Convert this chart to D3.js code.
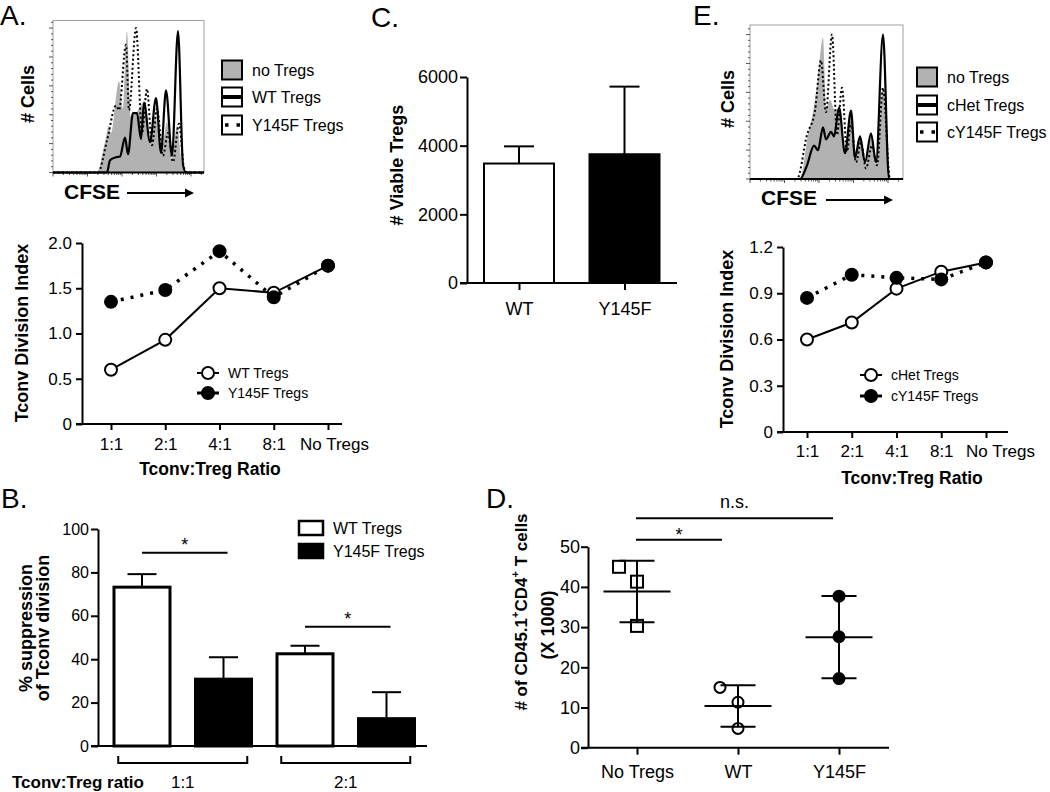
<!DOCTYPE html>
<html><head><meta charset="utf-8">
<script src="https://cdn.jsdelivr.net/npm/d3@7"></script>
<style>body{margin:0;background:#fff;} svg{display:block;}</style>
</head><body>
<svg id="c" width="1050" height="792"></svg>
<script>
// ---------------- DATA ----------------
// Histograms: [CFSE channel, relative count]
const histA_noTregs = [[0,0],[44,0],[52,20],[56,31],[58,26],[66,60],[70,42],[74,93],[78,37],[83,39],[91,46],[97,20],[102,37],[109,16],[114,33],[119,9],[124,31],[129,5],[132,0],[151,0]];
const histA_WT      = [[0,0],[54,0],[57,8],[63,10],[67,10.5],[72,23],[75,12],[80,39],[84,39],[88,22],[91,46],[97,20],[103,49],[108,13],[113,54],[119,11],[125,93],[130,5],[133,0],[151,0]];
const histA_Y145F   = [[0,0],[45,0],[54,21],[63,44],[66,41],[73,84],[76,41],[83,95],[89,26],[94,55],[99,18],[104,42],[110,11],[115,26],[120,7],[126,32],[131,3],[134,0],[151,0]];
const histE_noTregs = [[0,0],[50,0],[58,29],[63,44],[67,62],[73,93],[76,47],[80,52],[85,45],[90,47],[95,20],[100,42],[105,16],[110,29],[115,9],[121,29],[126,9],[133,60],[140,0],[153,0]];
const histE_cHet    = [[0,0],[50,0],[57,9],[64,22],[68,19],[73,34],[76,26],[81,31],[84,28],[89,47],[95,17],[101,45],[105,14],[110,28],[115,11],[121,30],[126,11],[133,95],[139,0],[153,0]];
const histE_cY145F  = [[0,0],[47,0],[57,29],[65,45],[71,78],[76,44],[82,95],[87,29],[92,60],[97,18],[101,37],[106,11],[111,24],[116,7],[122,22],[127,9],[133,60],[140,0],[153,0]];
const histLegendA = ["no Tregs","WT Tregs","Y145F Tregs"];
const histLegendE = ["no Tregs","cHet Tregs","cY145F Tregs"];

// Division index line charts
const ratioCats = ["1:1","2:1","4:1","8:1","No Tregs"];
const aWT    = [0.60,0.93,1.50,1.45,1.75];
const aY145F = [1.35,1.48,1.91,1.40,1.75];
const aTicks = [0,0.5,1.0,1.5,2.0];
const aTickLabels = ["0","0.5","1.0","1.5","2.0"];
const aLegend = ["WT Tregs","Y145F Tregs"];
const eHet    = [0.60,0.71,0.93,1.04,1.10];
const eY145F  = [0.87,1.02,1.00,0.99,1.10];
const eTicks = [0,0.3,0.6,0.9,1.2];
const eTickLabels = ["0","0.3","0.6","0.9","1.2"];
const eLegend = ["cHet Tregs","cY145F Tregs"];

// C: viable Tregs
const cCats = ["WT","Y145F"];
const cMeans = [3480,3750];
const cErr = [500,1970];
const cTicks = [0,2000,4000,6000];

// B: % suppression
const bGroups = ["1:1","2:1"];
const bSeries = ["WT Tregs","Y145F Tregs"];
const bWT = [73.2,42.5];
const bWTerr = [6.0,3.7];
const bY145F = [30.8,12.6];
const bY145Ferr = [10.1,12.2];
const bTicks = [0,20,40,60,80,100];
const bSig = [89,55];

// D: CD45.1+CD4+ T cells (x1000)
const dCats = ["No Tregs","WT","Y145F"];
const dNoTregs = [45.0,41.3,30.3];
const dWT = [15.0,11.3,4.8];
const dY145F = [37.7,27.6,17.2];
const dTicks = [0,10,20,30,40,50];
const dSig = [{from:"No Tregs",to:"WT",level:51.7,label:"*"},{from:"No Tregs",to:"Y145F",level:57.1,label:"n.s."}];

// ---------------- DRAW ----------------
const FONT = '"Liberation Sans", Arial, Helvetica, sans-serif';
const svg = d3.select("#c").attr("font-family", FONT);

function text(g, x, y, s, fs, o={}) {
  const t = g.append("text").attr("x",x).attr("y",y).attr("font-size",fs).attr("fill","#000").text(s);
  if (o.anchor) t.attr("text-anchor",o.anchor);
  if (o.bold) t.attr("font-weight","bold");
  return t;
}
function vtext(g, x, y, s, fs, bold=true) {
  return g.append("text").attr("transform",`translate(${x},${y}) rotate(-90)`)
    .attr("text-anchor","middle").attr("dominant-baseline","central")
    .attr("font-size",fs).attr("font-weight",bold?"bold":"normal").attr("fill","#000").text(s);
}
function styleAxis(a, fs){
  a.attr("font-family",FONT).attr("font-size",fs);
  a.select(".domain").attr("stroke-width",2);
  a.selectAll(".tick line").attr("stroke-width",2);
  a.selectAll(".tick text").attr("fill","#000");
}
function hline(g,x1,x2,y,w=2){ g.append("line").attr("x1",x1).attr("x2",x2).attr("y1",y).attr("y2",y).attr("stroke","#000").attr("stroke-width",w); }
function vline(g,x,y1,y2,w=2){ g.append("line").attr("x1",x).attr("x2",x).attr("y1",y1).attr("y2",y2).attr("stroke","#000").attr("stroke-width",w); }

// panel letters
[["A.",0,25],["C.",371,27],["E.",693,25],["B.",1,508],["D.",486,508]].forEach(d=>text(svg,d[1],d[2],d[0],28));

// ---- histograms ----
function histo(o){
  const g = svg.append("g");
  const x = d3.scaleLinear().domain([0,o.w]).range([o.x0,o.x1]);
  const y = d3.scaleLinear().domain([0,100]).range([o.yb,o.y100]);
  g.append("rect").attr("x",o.x0).attr("y",o.yt).attr("width",o.x1-o.x0).attr("height",o.yb-o.yt)
    .attr("fill","none").attr("stroke","#a0a0a0").attr("stroke-width",1);
  const lx = d3.scaleLog().domain([1, Math.pow(10,(o.x1-o.x0)/34.5)]).range([o.x0,o.x1]);
  lx.ticks().forEach(t=>{
    const major = Math.abs(Math.log10(t)-Math.round(Math.log10(t)))<1e-6;
    g.append("line").attr("x1",lx(t)).attr("x2",lx(t)).attr("y1",o.yb).attr("y2",o.yb+(major?4:2.5))
      .attr("stroke","#555").attr("stroke-width",1);
  });
  d3.range(0,100,3.8).forEach((t,i)=>{
    g.append("line").attr("x1",o.x0-(i%5===0?4:2)).attr("x2",o.x0).attr("y1",y(t)).attr("y2",y(t))
      .attr("stroke","#555").attr("stroke-width",1);
  });
  const curve = d3.curveMonotoneX;
  g.append("path").datum(o.fill).attr("fill","#b2b2b2")
    .attr("d", d3.area().x(d=>x(d[0])).y0(y(0)).y1(d=>y(d[1])).curve(curve));
  g.append("path").datum(o.dotted).attr("fill","none").attr("stroke","#000").attr("stroke-width",2)
    .attr("stroke-dasharray","2,2.5")
    .attr("d", d3.line().x(d=>x(d[0])).y(d=>y(d[1])).curve(curve));
  g.append("path").datum(o.solid).attr("fill","none").attr("stroke","#000").attr("stroke-width",2.2)
    .attr("d", d3.line().x(d=>x(d[0])).y(d=>y(d[1])).curve(curve));
  hline(g,o.x0,o.x1,o.yb,2);
  vtext(g,o.cellsX,o.cellsY,"# Cells",18);
  text(g,o.cfseX,o.cfseY,"CFSE",21,{bold:true});
  hline(g,o.arX1,o.arX2-6,o.arY,2);
  g.append("path").attr("d",`M${o.arX2},${o.arY} L${o.arX2-9},${o.arY-4.5} L${o.arX2-9},${o.arY+4.5} Z`).attr("fill","#000");
  o.legend.forEach((s,i)=>{
    const ly = o.legY[i];
    g.append("rect").attr("x",o.legX).attr("y",ly-9.5).attr("width",20).attr("height",19)
      .attr("fill", i===0?"#b2b2b2":"#fff").attr("stroke","#000").attr("stroke-width",2);
    if (i===1) hline(g,o.legX,o.legX+20,ly,4);
    if (i===2) g.append("line").attr("x1",o.legX+3).attr("x2",o.legX+18).attr("y1",ly).attr("y2",ly)
      .attr("stroke","#000").attr("stroke-width",3.5).attr("stroke-dasharray","3.5,8");
    text(g,o.legX+30,ly+6,s,16);
  });
}
histo({x0:53,x1:204,yt:20.5,yb:172.5,y100:20.5,w:151,fill:histA_noTregs,solid:histA_WT,dotted:histA_Y145F,
  cellsX:28,cellsY:94,cfseX:64,cfseY:199,arX1:127,arX2:194,arY:193,legend:histLegendA,legX:222,legY:[70,97,125]});
histo({x0:750,x1:903,yt:25,yb:179,y100:27,w:153,fill:histE_noTregs,solid:histE_cHet,dotted:histE_cY145F,
  cellsX:728,cellsY:99,cfseX:761,cfseY:205,arX1:826,arX2:893,arY:200,legend:histLegendE,legX:917,legY:[77,105,132]});

// ---- line charts ----
function lineChart(o){
  const g = svg.append("g");
  const x = d3.scalePoint().domain(ratioCats).range(o.xr);
  const y = d3.scaleLinear().domain(o.yd).range([o.yb,o.yt]);
  const ya = g.append("g").attr("transform",`translate(${o.ax},0)`)
    .call(d3.axisLeft(y).tickValues(o.ticks).tickFormat((d,i)=>o.labels[i]).tickSize(6).tickSizeOuter(0).tickPadding(4));
  styleAxis(ya,17);
  hline(g,o.ax-6,o.xEnd,o.yb,2);
  const xa = g.append("g").attr("transform",`translate(0,${o.yb})`)
    .call(d3.axisBottom(x).tickSize(6).tickPadding(o.xpad));
  xa.select(".domain").remove();
  styleAxis(xa,17);
  // the last (long) label is nudged right to avoid crowding, as in the original
  xa.selectAll(".tick text").filter(d=>d==="No Tregs").attr("dx",o.lastDx);
  const line = d3.line().x((d,i)=>x(ratioCats[i])).y(d=>y(d));
  o.series.forEach(s=>{
    g.append("path").datum(s.vals).attr("d",line).attr("fill","none").attr("stroke","#000")
      .attr("stroke-width",s.open?2:3.5).attr("stroke-dasharray",s.open?null:"3,7");
  });
  o.series.forEach(s=>{
    g.selectAll(null).data(s.vals).enter().append("circle")
      .attr("cx",(d,i)=>x(ratioCats[i])).attr("cy",d=>y(d)).attr("r",6)
      .attr("fill",s.open?"#fff":"#000").attr("stroke","#000").attr("stroke-width",2);
  });
  o.series.forEach((s,i)=>{
    const ly = o.legY[i];
    if (s.open) hline(g,o.legX,o.legX+22,ly,2);
    else { hline(g,o.legX,o.legX+5,ly,3); hline(g,o.legX+17,o.legX+22,ly,3); }
    g.append("circle").attr("cx",o.legX+11).attr("cy",ly).attr("r",6)
      .attr("fill",s.open?"#fff":"#000").attr("stroke","#000").attr("stroke-width",2);
    text(g,o.legX+31,ly+5,s.name,14);
  });
  vtext(g,o.ytX,o.ytY,"Tconv Division Index",18);
  text(g,o.xtX,o.xtY,"Tconv:Treg Ratio",17.5,{anchor:"middle",bold:true});
}
lineChart({ax:82,xEnd:342,yb:424,yt:243,xr:[111,328],yd:[0,2],ticks:aTicks,labels:aTickLabels,xpad:8,lastDx:6,
  series:[{vals:aWT,open:true,name:aLegend[0]},{vals:aY145F,open:false,name:aLegend[1]}],
  legX:197,legY:[373,393],ytX:22,ytY:333,xtX:210,xtY:475});
lineChart({ax:783,xEnd:1008,yb:432,yt:247,xr:[807,986],yd:[0,1.2],ticks:eTicks,labels:eTickLabels,xpad:7,lastDx:14,
  series:[{vals:eHet,open:true,name:eLegend[0]},{vals:eY145F,open:false,name:eLegend[1]}],
  legX:860,legY:[375,396],ytX:727,ytY:339,xtX:912,xtY:484});

// ---- C ----
(function(){
  const g = svg.append("g");
  const x = d3.scalePoint().domain(cCats).range([519,624.5]);
  const y = d3.scaleLinear().domain([0,6000]).range([283,77]);
  const bw = 70;
  cCats.forEach((c,i)=>{
    vline(g,x(c),y(cMeans[i]),y(cMeans[i]+cErr[i]),2);
    hline(g,x(c)-15,x(c)+15,y(cMeans[i]+cErr[i]),2);
    g.append("rect").attr("x",x(c)-bw/2).attr("y",y(cMeans[i])).attr("width",bw).attr("height",y(0)-y(cMeans[i]))
      .attr("fill",i===0?"#fff":"#000").attr("stroke","#000").attr("stroke-width",2);
  });
  const ya = g.append("g").attr("transform","translate(467,0)")
    .call(d3.axisLeft(y).tickValues(cTicks).tickFormat(d3.format("d")).tickSize(7).tickSizeOuter(0).tickPadding(2));
  styleAxis(ya,18);
  hline(g,460,677,283,2);
  const xa = g.append("g").attr("transform","translate(0,283)").call(d3.axisBottom(x).tickSize(7).tickPadding(12));
  xa.select(".domain").remove();
  styleAxis(xa,18);
  vtext(g,397,165,"# Viable Tregs",18);
})();

// ---- B ----
(function(){
  const g = svg.append("g");
  const gx = d3.scalePoint().domain(bGroups).range([182.75,345.75]);
  const sx = d3.scalePoint().domain(bSeries).range([-40.75,40.75]);
  const y = d3.scaleLinear().domain([0,100]).range([746,529]);
  const bw = 56;
  const vals = [bWT,bY145F], errs=[bWTerr,bY145Ferr];
  bGroups.forEach((grp,gi)=>{
    bSeries.forEach((s,si)=>{
      const cx = gx(grp)+sx(s), v = vals[si][gi], e = errs[si][gi];
      vline(g,cx,y(v),y(v+e),2);
      hline(g,cx-14.5,cx+14.5,y(v+e),2);
      g.append("rect").attr("x",cx-bw/2).attr("y",y(v)).attr("width",bw).attr("height",y(0)-y(v))
        .attr("fill",si===0?"#fff":"#000").attr("stroke","#000").attr("stroke-width",3);
    });
    const x1 = gx(grp)+sx(bSeries[0]), x2 = gx(grp)+sx(bSeries[1])+4;
    hline(g,x1,x2,y(bSig[gi]),2);
    text(g,(x1+x2)/2,y(bSig[gi])-2,"*",18,{anchor:"middle"});
    const bl = gx(grp)-64.5, br = gx(grp)+64.5, by = 763;
    g.append("path").attr("d",`M${bl},${by-7} V${by} H${br} V${by-7}`).attr("fill","none").attr("stroke","#000").attr("stroke-width",2);
    text(g,gx(grp),788,grp,17,{anchor:"middle"});
  });
  const ya = g.append("g").attr("transform","translate(98,0)")
    .call(d3.axisLeft(y).tickValues(bTicks).tickSize(7).tickSizeOuter(0).tickPadding(2));
  styleAxis(ya,16);
  hline(g,91,427,746,2);
  text(g,12,788,"Tconv:Treg ratio",17,{bold:true});
  vtext(g,26,628,"% suppression",18);
  vtext(g,43,628,"of Tconv division",18);
  bSeries.forEach((s,i)=>{
    const ly = 528+i*23;
    g.append("rect").attr("x",299).attr("y",ly-7).attr("width",24).attr("height",14)
      .attr("fill",i===0?"#fff":"#000").attr("stroke","#000").attr("stroke-width",2.5);
    text(g,333,ly+6,s,16);
  });
})();

// ---- D ----
(function(){
  const g = svg.append("g");
  const x = d3.scalePoint().domain(dCats).range([637,839]);
  const y = d3.scaleLinear().domain([0,50]).range([747.7,546.7]);
  const sets = [dNoTregs,dWT,dY145F];
  const ya = g.append("g").attr("transform","translate(588,0)")
    .call(d3.axisLeft(y).tickValues(dTicks).tickSize(7).tickSizeOuter(0).tickPadding(1));
  styleAxis(ya,18);
  hline(g,581,889,747.7,2);
  const xa = g.append("g").attr("transform","translate(0,747.7)").call(d3.axisBottom(x).tickSize(7).tickPadding(10.5));
  xa.select(".domain").remove();
  styleAxis(xa,18);
  sets.forEach((vals,ci)=>{
    const cx = x(dCats[ci]);
    const m = d3.mean(vals), sd = d3.deviation(vals);
    vline(g,cx,y(m-sd),y(m+sd),2);
    hline(g,cx-17.5,cx+17.5,y(m+sd),2);
    hline(g,cx-17.5,cx+17.5,y(m-sd),2);
    hline(g,cx-33.5,cx+33.5,y(m),2);
    const sorted = vals.map((v,i)=>({v,i})).sort((a,b)=>a.v-b.v);
    sorted.forEach((p,k)=>{
      p.dx = (k>0 && p.v - sorted[k-1].v < 4) ? -18 : 0;
      const px = cx+p.dx, py = y(p.v);
      if (ci===0) g.append("rect").attr("x",px-6).attr("y",py-6).attr("width",12).attr("height",12)
        .attr("fill","none").attr("stroke","#000").attr("stroke-width",2);
      else g.append("circle").attr("cx",px).attr("cy",py).attr("r",5.5)
        .attr("fill",ci===2?"#000":"none").attr("stroke","#000").attr("stroke-width",2);
    });
  });
  dSig.forEach(s=>{
    const x1 = x(s.from)-1, x2 = x(s.to)-(s.label==="*"?16:6);
    hline(g,x1,x2,y(s.level),2);
    text(g,(x1+x2)/2,y(s.level)-(s.label==="*"?-1:10),s.label,18,{anchor:"middle"});
  });
  const t = g.append("text").attr("transform","translate(521,612) rotate(-90)").attr("text-anchor","middle")
    .attr("dominant-baseline","central").attr("font-size",17).attr("font-weight","bold").attr("fill","#000");
  t.append("tspan").text("# of CD45.1");
  t.append("tspan").attr("dy",-6).attr("font-size",11).text("+");
  t.append("tspan").attr("dy",6).text("CD4");
  t.append("tspan").attr("dy",-6).attr("font-size",11).text("+");
  t.append("tspan").attr("dy",6).text(" T cells");
  vtext(g,548,625,"(X 1000)",18);
})();
</script>
</body></html>
